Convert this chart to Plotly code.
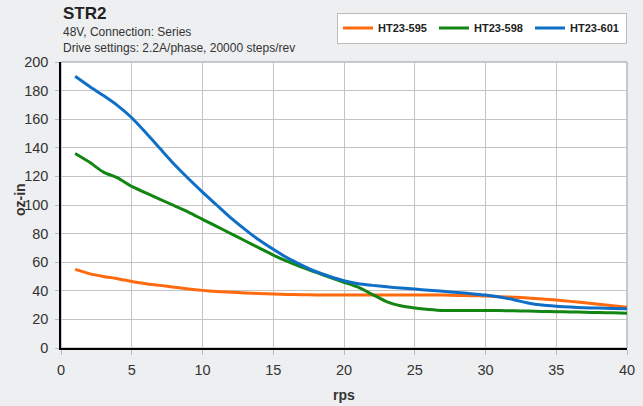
import plotly.graph_objects as go

rps = [1, 2, 3, 4, 5, 6, 7, 8, 9, 10, 11, 12, 13, 14, 15, 16, 17, 18, 19, 20,
       21, 22, 23, 24, 25, 26, 27, 28, 29, 30, 31, 32, 33, 34, 35, 36, 37, 38, 39, 40]

ht23_595 = [55, 52, 50, 48.5, 46.5, 45, 43.8, 42.5, 41.3, 40.3, 39.5, 39, 38.5, 38.1, 37.8,
            37.5, 37.3, 37.1, 37, 37, 37, 37, 37, 37, 37, 37, 37, 36.8, 36.6, 36.3,
            35.9, 35.5, 35, 34.3, 33.5, 32.6, 31.6, 30.6, 29.6, 28.5]

ht23_598 = [136, 130, 123, 119, 113, 108.5, 104, 99.5, 95, 90, 85, 80, 75, 70, 65,
            60.5, 56.5, 53, 49.5, 46, 42.5, 37.5, 32.5, 29.5, 28, 27, 26.3, 26.2, 26.2, 26.3,
            26.2, 26, 25.8, 25.6, 25.4, 25.2, 25, 24.8, 24.6, 24.3]

ht23_601 = [190, 183, 176.5, 169.5, 161, 150.5, 139.5, 128.5, 118.5, 109, 100, 91, 83, 75.5, 69,
            63, 58, 53.5, 50, 47, 45, 43.8, 42.8, 42, 41.2, 40.4, 39.6, 38.8, 38, 37,
            35.6, 33.8, 31.5, 30, 29.2, 28.6, 28.2, 27.9, 27.6, 27.4]

names = ["HT23-595", "HT23-598", "HT23-601"]
colors = ["#ff6a0e", "#128512", "#0f6fc6"]
series = [ht23_595, ht23_598, ht23_601]

x_ticks = [0, 5, 10, 15, 20, 25, 30, 35, 40]
y_ticks = [0, 20, 40, 60, 80, 100, 120, 140, 160, 180, 200]

font_family = "Liberation Sans"

fig = go.Figure()
for n, c, s in zip(names, colors, series):
    fig.add_trace(go.Scatter(x=rps, y=s, name=n, mode="lines",
                             line=dict(color=c, width=3, shape="spline", smoothing=0.6)))

plot_h = 406 - 62 - 58

fig.update_layout(
    width=643, height=406,
    margin=dict(l=61, r=16, t=62, b=58),
    paper_bgcolor="#eeeff1",
    plot_bgcolor="#ffffff",
    font=dict(family=font_family, size=13, color="#333333"),
    showlegend=True,
    legend=dict(orientation="h", x=1.0, xanchor="right", y=1 + 34 / plot_h, yanchor="middle",
                bgcolor="#ffffff", bordercolor="#bbbbbb", borderwidth=1,
                font=dict(family=font_family, size=11, color="#222222", weight="bold"),
                entrywidth=51, entrywidthmode="pixels", tracegroupgap=0),
    xaxis=dict(range=[0, 40], tickvals=x_ticks, showgrid=True, gridcolor="#c4c4c4",
               gridwidth=1, zeroline=False, showline=True, linecolor="#000000", linewidth=1.5,
               ticks="outside", ticklen=5, tickcolor="#bbbbbb", automargin=False,
               ticklabelstandoff=3,
               tickfont=dict(size=14.5, color="#333333")),
    yaxis=dict(range=[0, 200], tickvals=y_ticks, showgrid=True, gridcolor="#c4c4c4",
               gridwidth=1, zeroline=False, showline=True, linecolor="#000000", linewidth=1.5,
               ticks="outside", ticklen=4, tickcolor="#bbbbbb", automargin=False,
               ticklabelstandoff=4,
               tickfont=dict(size=14.5, color="#333333")),
)

fig.add_shape(type="rect", xref="paper", yref="paper", x0=0, y0=0, x1=1, y1=1,
              line=dict(color="#999999", width=1), layer="below")

# axis titles
fig.add_annotation(text="<b>rps</b>", xref="paper", yref="paper", x=0.5, y=0, yshift=-47,
                   xanchor="center", yanchor="middle", showarrow=False,
                   font=dict(size=14, color="#333333", family=font_family))
fig.add_annotation(text="<b>oz-in</b>", xref="paper", yref="paper", x=0, xshift=-41, y=0.5,
                   yshift=5, textangle=-90, xanchor="center", yanchor="middle", showarrow=False,
                   font=dict(size=14, color="#333333", family=font_family))

# titles
fig.add_annotation(text="<b>STR2</b>", xref="paper", yref="paper", x=0, y=1.0,
                   yshift=62 - 2, xanchor="left", yanchor="top", showarrow=False,
                   font=dict(size=17, color="#222222", family=font_family))
fig.add_annotation(text="48V, Connection: Series<br>Drive settings: 2.2A/phase, 20000 steps/rev",
                   xref="paper", yref="paper", x=0, y=1.0, yshift=62 - 23,
                   xanchor="left", yanchor="top", align="left", showarrow=False,
                   font=dict(size=12, color="#333333", family=font_family))

fig.write_html("out.html", config={"displayModeBar": False},
               post_script="document.body.style.margin='0';document.body.style.overflow='hidden';")
